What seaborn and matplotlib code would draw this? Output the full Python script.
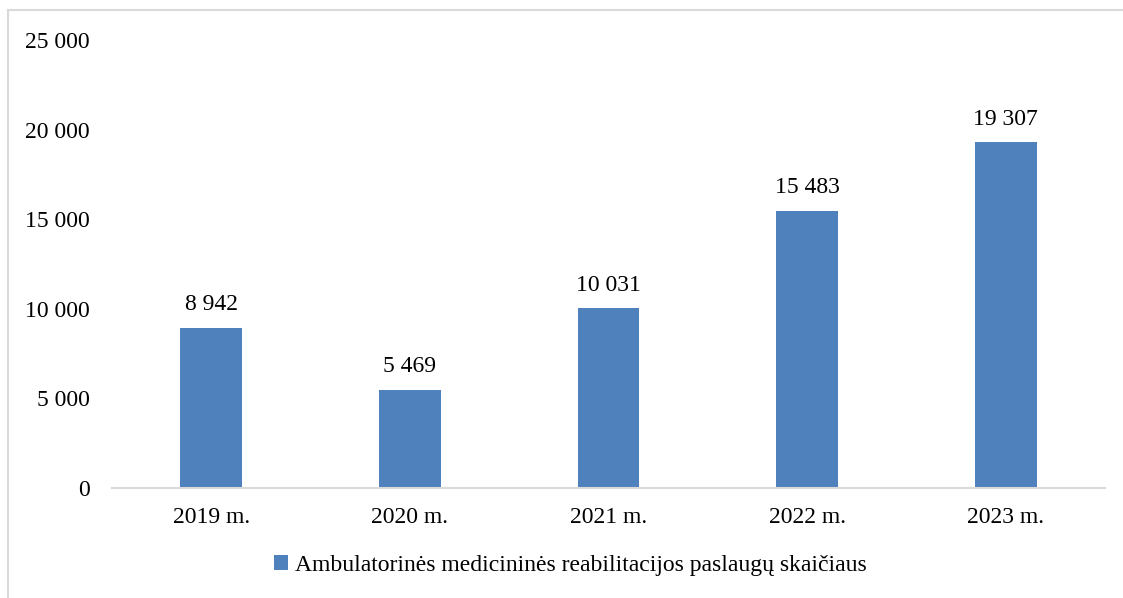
import matplotlib
matplotlib.use("Agg")
import matplotlib.pyplot as plt
import seaborn as sns
import pandas as pd
from matplotlib.patches import Rectangle, Patch

years = ["2019 m.", "2020 m.", "2021 m.", "2022 m.", "2023 m."]
values = [8942, 5469, 10031, 15483, 19307]
series_name = "Ambulatorinės medicininės reabilitacijos paslaugų skaičiaus"
yticks = [0, 5000, 10000, 15000, 20000, 25000]

sns.set_theme(style="white")
plt.rcParams['font.family'] = ['Liberation Serif', 'DejaVu Serif']
plt.rcParams['text.color'] = 'black'
plt.rcParams['xtick.color'] = 'black'
plt.rcParams['ytick.color'] = 'black'

df = pd.DataFrame({"year": years, "value": values})

fig = plt.figure(figsize=(11.23, 5.98), dpi=100)
ax = fig.add_axes([0.0997, 0.184, 0.8843, 0.749])
color = "#4f81bd"
sns.barplot(data=df, x="year", y="value", color=color, width=0.31, ax=ax,
            saturation=1, edgecolor="none")

ax.set_ylim(0, 25000)
ax.set_xlim(-0.5, len(years) - 0.5)
ax.set_yticks(yticks)
ax.set_yticklabels([f"{v:,}".replace(",", " ") for v in yticks], fontsize=17)
ax.tick_params(axis="x", labelsize=17, length=0, pad=14, labelcolor="black")
ax.tick_params(axis="y", length=0, pad=16, labelcolor="black")
ax.set_xlabel("")
ax.set_ylabel("")
for s in ["top", "right", "left"]:
    ax.spines[s].set_visible(False)
ax.spines["bottom"].set_color("#d9d9d9")
ax.spines["bottom"].set_linewidth(1.5)

for i, v in enumerate(values):
    ax.annotate(f"{v:,}".replace(",", " "), (i, v), xytext=(0, 9),
                textcoords="offset points", ha="center", va="bottom",
                fontsize=17, color="black")

handle = Patch(facecolor=color, edgecolor="none")
leg = fig.legend([handle], [series_name], loc="center", bbox_to_anchor=(0.508, 0.054),
                 frameon=False, fontsize=17, handlelength=0.6, handleheight=0.6,
                 handletextpad=0.3)
for t in leg.get_texts():
    t.set_color("black")

# outer light border
fig.patches.append(Rectangle((8 / 1123, -0.01), 1.2, 1 - 10 / 598 + 0.01,
                             transform=fig.transFigure, fill=False,
                             edgecolor="#d9d9d9", linewidth=1.5))

fig.savefig("out.png", dpi=100)
